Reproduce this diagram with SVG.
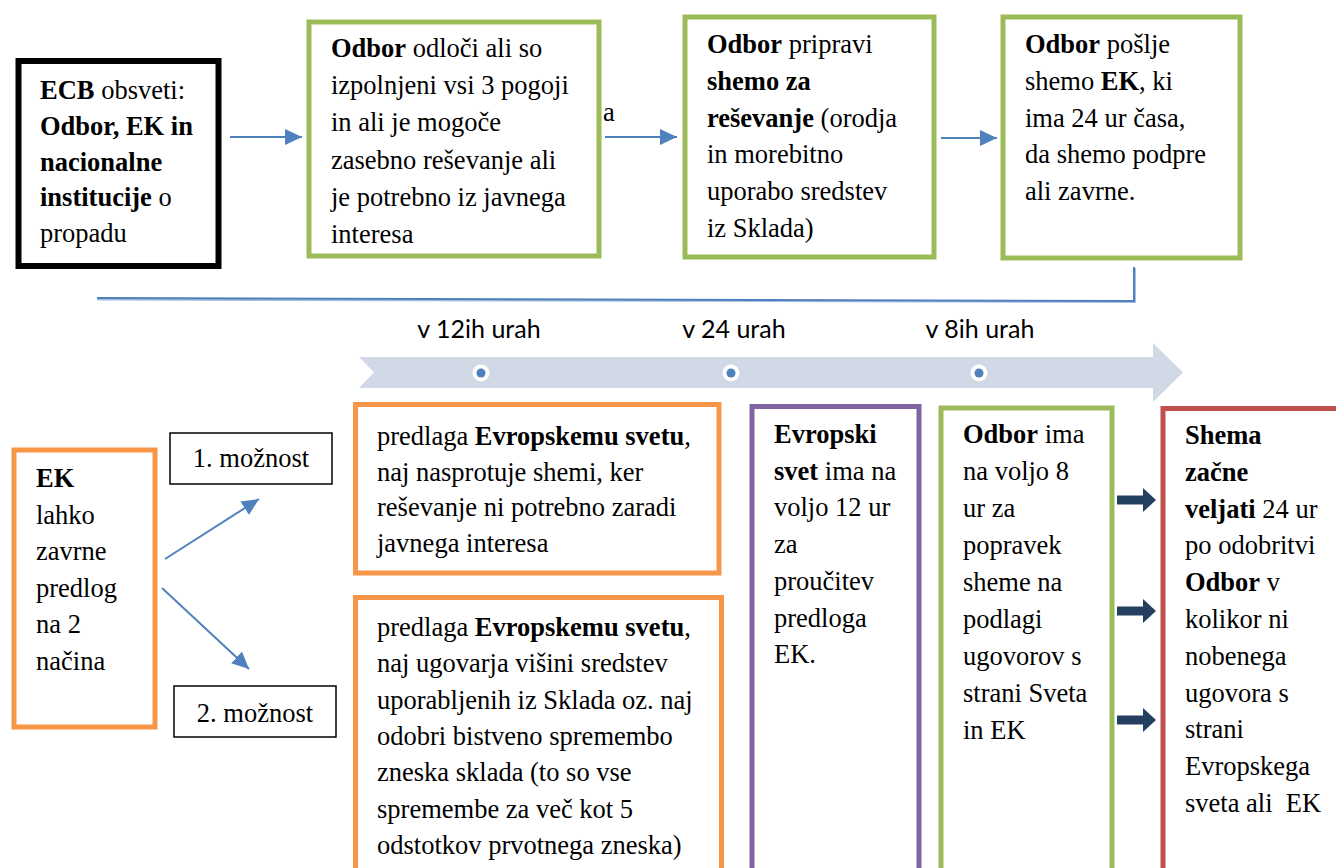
<svg xmlns="http://www.w3.org/2000/svg" width="1336" height="868" viewBox="0 0 1336 868">
<style>
.b{font-weight:bold}
.blk{fill:#fff;stroke:#000;stroke-width:6}
.grn{fill:#fff;stroke:#9BBB59;stroke-width:5}
.org{fill:#fff;stroke:#F79646;stroke-width:5}
.pur{fill:#fff;stroke:#8064A2;stroke-width:5}
.red{fill:#fff;stroke:#C0504D;stroke-width:5}
.thin{fill:#fff;stroke:#000;stroke-width:1.5}
.arr{fill:none;stroke:#4F81BD;stroke-width:2;marker-end:url(#ah)}
.dk{fill:#243F60}
</style>
<defs>
<marker id="ah" markerUnits="userSpaceOnUse" markerWidth="18" markerHeight="16" refX="17" refY="8" orient="auto">
<path d="M0,0 L17,8 L0,16 Z" fill="#4F81BD"/>
</marker>
</defs>

<g id="timeline">
<polygon points="359,357 1153,357 1153,343 1183,372.5 1153,402 1153,388 359,388 374,372.5" fill="#D1D9E7"/>
<circle cx="481" cy="373" r="8.5" fill="#fff"/><circle cx="481" cy="373" r="4.5" fill="#4F81BD"/>
<circle cx="731" cy="373" r="8.5" fill="#fff"/><circle cx="731" cy="373" r="4.5" fill="#4F81BD"/>
<circle cx="979" cy="373" r="8.5" fill="#fff"/><circle cx="979" cy="373" r="4.5" fill="#4F81BD"/>
<g font-family="Lato, sans-serif" font-size="25" text-anchor="middle" fill="#000">
<text x="479" y="338">v 12ih urah</text>
<text x="734" y="338">v 24 urah</text>
<text x="980" y="338">v 8ih urah</text>
</g>
</g>

<g id="connectors">
<line class="arr" x1="230" y1="137" x2="302" y2="137"/>
<line class="arr" x1="605" y1="137" x2="677" y2="137"/>
<line class="arr" x1="941" y1="138" x2="997" y2="138"/>
<path d="M1135,268 L1135,302 L97,299.5" fill="none" stroke="#A9C1E0" stroke-width="2"/>
<path d="M1134,267 L1134,301 L97,298" fill="none" stroke="#4F81BD" stroke-width="2"/>
<line class="arr" x1="165" y1="559" x2="259" y2="499"/>
<line class="arr" x1="162" y1="588" x2="249" y2="669"/>
<path class="dk" d="M1117,495.5 L1143,495.5 L1143,488 L1156,500 L1143,512 L1143,504.5 L1117,504.5 Z"/>
<path class="dk" d="M1117,606.5 L1143,606.5 L1143,599 L1156,611 L1143,623 L1143,615.5 L1117,615.5 Z"/>
<path class="dk" d="M1117,715.5 L1143,715.5 L1143,708 L1156,720 L1143,732 L1143,724.5 L1117,724.5 Z"/>
</g>

<g font-family="Liberation Serif, serif" font-size="26.5" fill="#000">
<g id="n-ecb">
<rect class="blk" x="18.5" y="61" width="200" height="205"/>
<text>
<tspan x="40" y="99"><tspan class="b">ECB</tspan> obsveti:</tspan>
<tspan x="40" y="134.75" class="b">Odbor, EK in</tspan>
<tspan x="40" y="170.5" class="b">nacionalne</tspan>
<tspan x="40" y="206.25"><tspan class="b">institucije</tspan> o</tspan>
<tspan x="40" y="242">propadu</tspan>
</text>
</g>

<g id="n-odloci">
<rect class="grn" x="309" y="22" width="290" height="234"/>
<text>
<tspan x="331" y="57"><tspan class="b">Odbor</tspan> odloči ali so</tspan>
<tspan x="331" y="94.2">izpolnjeni vsi 3 pogoji</tspan>
<tspan x="331" y="131.4">in ali je mogoče</tspan>
<tspan x="331" y="168.6">zasebno reševanje ali</tspan>
<tspan x="331" y="205.8">je potrebno iz javnega</tspan>
<tspan x="331" y="243">interesa</tspan>
</text>
</g>

<text x="603" y="121">a</text>

<g id="n-pripravi">
<rect class="grn" x="685" y="17" width="249" height="240"/>
<text>
<tspan x="707" y="53"><tspan class="b">Odbor</tspan> pripravi</tspan>
<tspan x="707" y="89.8" class="b">shemo za</tspan>
<tspan x="707" y="126.6"><tspan class="b">reševanje</tspan> (orodja</tspan>
<tspan x="707" y="163.4">in morebitno</tspan>
<tspan x="707" y="200.2">uporabo sredstev</tspan>
<tspan x="707" y="237">iz Sklada)</tspan>
</text>
</g>

<g id="n-poslje">
<rect class="grn" x="1003" y="17" width="237" height="241"/>
<text>
<tspan x="1025" y="53"><tspan class="b">Odbor</tspan> pošlje</tspan>
<tspan x="1025" y="89.8">shemo <tspan class="b">EK</tspan>, ki</tspan>
<tspan x="1025" y="126.6">ima 24 ur časa,</tspan>
<tspan x="1025" y="163.4">da shemo podpre</tspan>
<tspan x="1025" y="200.2">ali zavrne.</tspan>
</text>
</g>

<g id="n-ek">
<rect class="org" x="14" y="450" width="141" height="277"/>
<text>
<tspan x="36" y="487" class="b">EK</tspan>
<tspan x="36" y="523.5">lahko</tspan>
<tspan x="36" y="560">zavrne</tspan>
<tspan x="36" y="596.5">predlog</tspan>
<tspan x="36" y="633">na 2</tspan>
<tspan x="36" y="669.5">načina</tspan>
</text>
</g>

<g id="n-moznost1">
<rect class="thin" x="170" y="433" width="162" height="51"/>
<text x="251" y="467" text-anchor="middle">1. možnost</text>
</g>

<g id="n-moznost2">
<rect class="thin" x="174" y="686" width="162" height="51"/>
<text x="255" y="722" text-anchor="middle">2. možnost</text>
</g>

<g id="n-predlaga1">
<rect class="org" x="355.5" y="404.5" width="363.5" height="168.5"/>
<text>
<tspan x="377" y="445">predlaga <tspan class="b">Evropskemu svetu</tspan>,</tspan>
<tspan x="377" y="480.7">naj nasprotuje shemi, ker</tspan>
<tspan x="377" y="516.4">reševanje ni potrebno zaradi</tspan>
<tspan x="377" y="552">javnega interesa</tspan>
</text>
</g>

<g id="n-predlaga2">
<rect class="org" x="355.5" y="597.5" width="366" height="300"/>
<text>
<tspan x="377" y="636">predlaga <tspan class="b">Evropskemu svetu</tspan>,</tspan>
<tspan x="377" y="672.3">naj ugovarja višini sredstev</tspan>
<tspan x="377" y="708.6">uporabljenih iz Sklada oz. naj</tspan>
<tspan x="377" y="744.9">odobri bistveno spremembo</tspan>
<tspan x="377" y="781.2">zneska sklada (to so vse</tspan>
<tspan x="377" y="817.5">spremembe za več kot 5</tspan>
<tspan x="377" y="853.8">odstotkov prvotnega zneska)</tspan>
</text>
</g>

<g id="n-svet">
<rect class="pur" x="752" y="406.5" width="167" height="500"/>
<text>
<tspan x="774" y="443" class="b">Evropski</tspan>
<tspan x="774" y="479.7"><tspan class="b">svet</tspan> ima na</tspan>
<tspan x="774" y="516.4">voljo 12 ur</tspan>
<tspan x="774" y="553.1">za</tspan>
<tspan x="774" y="589.8">proučitev</tspan>
<tspan x="774" y="626.5">predloga</tspan>
<tspan x="774" y="663.2">EK.</tspan>
</text>
</g>

<g id="n-popravek">
<rect class="grn" x="941" y="408" width="171" height="500"/>
<text>
<tspan x="963" y="443"><tspan class="b">Odbor</tspan> ima</tspan>
<tspan x="963" y="480">na voljo 8</tspan>
<tspan x="963" y="517">ur za</tspan>
<tspan x="963" y="554">popravek</tspan>
<tspan x="963" y="591">sheme na</tspan>
<tspan x="963" y="628">podlagi</tspan>
<tspan x="963" y="665">ugovorov s</tspan>
<tspan x="963" y="702">strani Sveta</tspan>
<tspan x="963" y="739">in EK</tspan>
</text>
</g>

<g id="n-shema">
<rect class="red" x="1163" y="408.5" width="200" height="500"/>
<text>
<tspan x="1185" y="444" class="b">Shema</tspan>
<tspan x="1185" y="480.8" class="b">začne</tspan>
<tspan x="1185" y="517.6"><tspan class="b">veljati</tspan> 24 ur</tspan>
<tspan x="1185" y="554.4">po odobritvi</tspan>
<tspan x="1185" y="591.2"><tspan class="b">Odbor</tspan> v</tspan>
<tspan x="1185" y="628">kolikor ni</tspan>
<tspan x="1185" y="664.8">nobenega</tspan>
<tspan x="1185" y="701.6">ugovora s</tspan>
<tspan x="1185" y="738.4">strani</tspan>
<tspan x="1185" y="775.2">Evropskega</tspan>
<tspan x="1185" y="812">sveta ali&#160; EK</tspan>
</text>
</g>
</g>
</svg>
